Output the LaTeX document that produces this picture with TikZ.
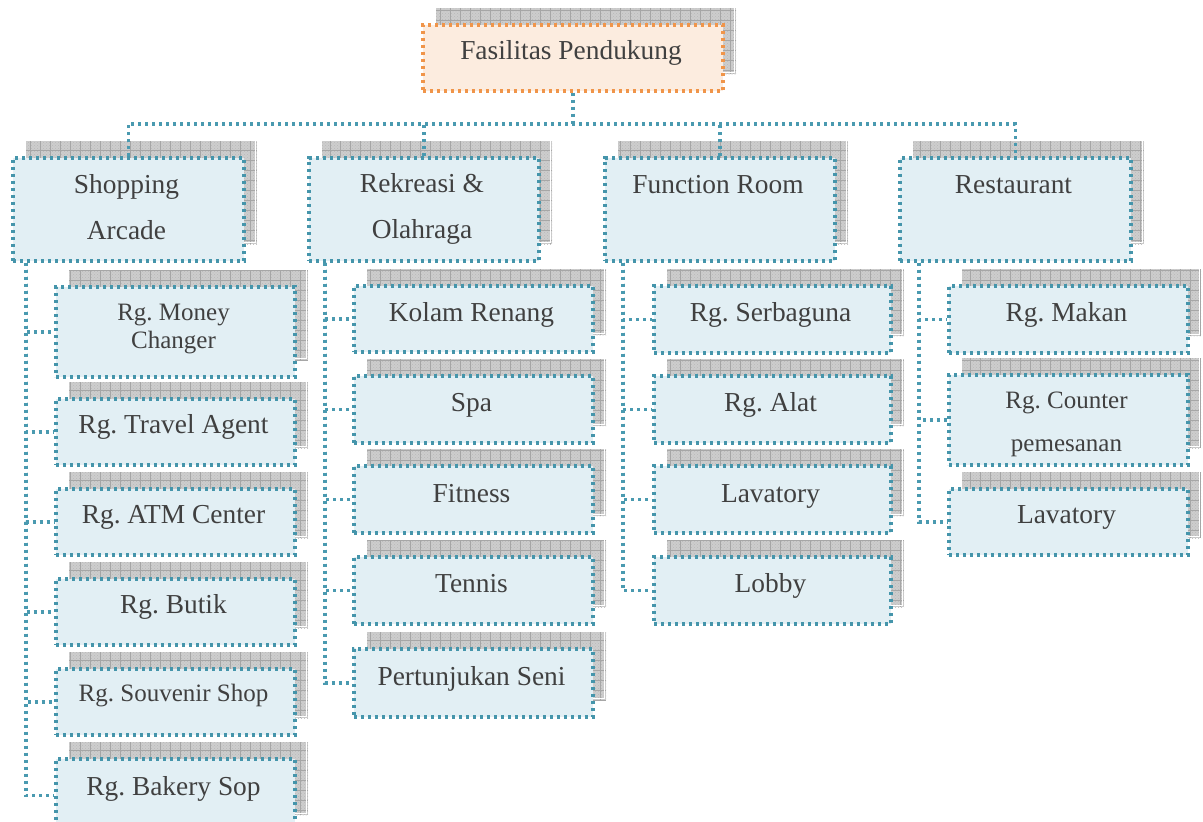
\documentclass[tikz,border=0pt]{standalone}
\usepackage{fontspec}
\setmainfont{Liberation Serif}
\usetikzlibrary{patterns}

\definecolor{conn}{HTML}{4A9AB0}
\definecolor{boxedge}{HTML}{4595AB}
\definecolor{boxfill}{HTML}{E2EFF4}
\definecolor{topedge}{HTML}{F0954A}
\definecolor{topfill}{HTML}{FCECDF}
\definecolor{shadefill}{HTML}{CDCDCD}
\definecolor{shadegrid}{HTML}{A6A6A6}
\definecolor{txt}{HTML}{404040}

\pgfdeclarelayer{shadow}
\pgfsetlayers{shadow,main}

\tikzset{
  dots/.style={line width=3.5pt, dash pattern=on 3.2pt off 3.8pt},
  link/.style={dots, draw=conn},
  unit/.style={rectangle, draw=boxedge, fill=boxfill, dots, inner sep=0pt},
  headunit/.style={unit, draw=topedge, fill=topfill},
  lbl/.style={anchor=base, text=txt, inner sep=0pt, font=\fontsize{27.4}{30}\selectfont},
  lblsmall/.style={lbl, font=\fontsize{25}{28}\selectfont},
}

% shadowed box: [style]{name}{x1}{y1}{x2}{y2}, pixel-like units, y downwards
\newcommand\unitbox[6][unit]{%
  \begin{pgfonlayer}{shadow}
    \begin{scope}
      \clip (#3+15,#4-15) rectangle (#5+15,#6-15);
      \fill[shadefill] (#3+15,#4-15) rectangle (#5+15,#6-15);
      \fill[pattern=crosshatch dots, pattern color=gray!55] (#3+15,#4-15) rectangle (#5+15,#6-15);
      \draw[shadegrid, line width=0.7pt, step=10pt] (#3+15,#4-15) grid (#5+15,#6-15);
      \draw[white, line width=0.8pt] (#3+13,#4-17) rectangle (#5+13,#6-17);
    \end{scope}
  \end{pgfonlayer}
  \pgfmathsetmacro\uw{#5-#3}%
  \pgfmathsetmacro\uh{#6-#4}%
  \node[#1, minimum width=\uw pt, minimum height=\uh pt, anchor=north west] (#2) at (#3,#4) {};
}

\begin{document}
\frenchspacing
\begin{tikzpicture}[x=1pt, y=-1pt]
  \begin{pgfonlayer}{shadow}
    \fill[white] (0,0) rectangle (1203,822);
  \end{pgfonlayer}
  \useasboundingbox (0,0) rectangle (1203,822);

  % root
  \unitbox[headunit]{top}{421}{23}{721}{89}
  \node[lbl] (topT) at (571,59) {Fasilitas Pendukung};

  % second level
  \unitbox{shop}{11}{156}{242}{259}
  \unitbox{rek}{307}{156}{537}{259}
  \unitbox{func}{603}{156}{833}{259}
  \unitbox{rest}{898}{156}{1129}{259}
  \node[lbl] (shopT1) at (126.5,193) {Shopping};
  \node[lbl] (shopT2) at (126.5,239) {Arcade};
  \node[lbl] (rekT1) at (422,192) {Rekreasi \&};
  \node[lbl] (rekT2) at (422,238) {Olahraga};
  \node[lbl] (funcT) at (718,193) {Function Room};
  \node[lbl] (restT) at (1013.5,193) {Restaurant};

  % shopping arcade
  \unitbox{mc}{54}{285}{293}{375}
  \unitbox{ta}{54}{397}{293}{463}
  \unitbox{atm}{54}{487}{293}{553}
  \unitbox{but}{54}{577}{293}{643}
  \unitbox{sv}{54}{667}{293}{733}
  \unitbox{bk}{54}{757}{293}{830}
  \node[lblsmall] (mcT1) at (173.5,320) {Rg. Money};
  \node[lblsmall] (mcT2) at (173.5,348) {Changer};
  \node[lbl] (taT) at (173.5,433) {Rg. Travel Agent};
  \node[lbl] (atmT) at (173.5,523) {Rg. ATM Center};
  \node[lbl] (butT) at (173.5,613) {Rg. Butik};
  \node[lblsmall] (svT) at (173.5,701) {Rg. Souvenir Shop};
  \node[lbl] (bkT) at (173.5,795) {Rg. Bakery Sop};

  % rekreasi & olahraga
  \unitbox{kr}{352}{284}{591}{350}
  \unitbox{spa}{352}{374}{591}{441}
  \unitbox{fit}{352}{464}{591}{531}
  \unitbox{ten}{352}{555}{591}{622}
  \unitbox{ps}{352}{647}{591}{715}
  \node[lbl] (krT) at (471.5,321) {Kolam Renang};
  \node[lbl] (spaT) at (471.5,411) {Spa};
  \node[lbl] (fitT) at (471.5,502) {Fitness};
  \node[lbl] (tenT) at (471.5,592) {Tennis};
  \node[lbl] (psT) at (471.5,685) {Pertunjukan Seni};

  % function room
  \unitbox{sb}{652}{284}{889}{351}
  \unitbox{al}{652}{374}{889}{441}
  \unitbox{lv}{652}{464}{889}{531}
  \unitbox{lb}{652}{555}{889}{622}
  \node[lbl] (sbT) at (770.5,321) {Rg. Serbaguna};
  \node[lbl] (alT) at (770.5,411) {Rg. Alat};
  \node[lbl] (lvT) at (770.5,502) {Lavatory};
  \node[lbl] (lbT) at (770.5,592) {Lobby};

  % restaurant
  \unitbox{mk}{947}{284}{1186}{351}
  \unitbox{ct}{947}{373}{1186}{463}
  \unitbox{lw}{947}{487}{1186}{553}
  \node[lbl] (mkT) at (1066.5,321) {Rg. Makan};
  \node[lblsmall] (ctT1) at (1066.5,408) {Rg. Counter};
  \begin{scope}
    \clip (947,439.5) rectangle (1186,470);
    \node[lblsmall] (ctT2) at (1066.5,451) {pemesanan};
  \end{scope}
  \node[lbl] (lwT) at (1066.5,523) {Lavatory};

  % connectors
  \coordinate (bus) at (572,124);
  \draw[link] (top.south) -- (top.south |- bus);
  \draw[link] (shop.north) |- (bus) -| (rest.north);
  \draw[link] (rek.north) -- (rek.north |- bus);
  \draw[link] (func.north) -- (func.north |- bus);

  \foreach \c in {mc,ta,atm,but,sv,bk}
    \draw[link] ([xshift=15pt]shop.south west) |- (\c.west);
  \foreach \c in {kr,spa,fit,ten,ps}
    \draw[link] ([xshift=18pt]rek.south west) |- (\c.west);
  \foreach \c in {sb,al,lv,lb}
    \draw[link] ([xshift=20pt]func.south west) |- (\c.west);
  \foreach \c in {mk,ct,lw}
    \draw[link] ([xshift=21pt]rest.south west) |- (\c.west);
\end{tikzpicture}
\end{document}
